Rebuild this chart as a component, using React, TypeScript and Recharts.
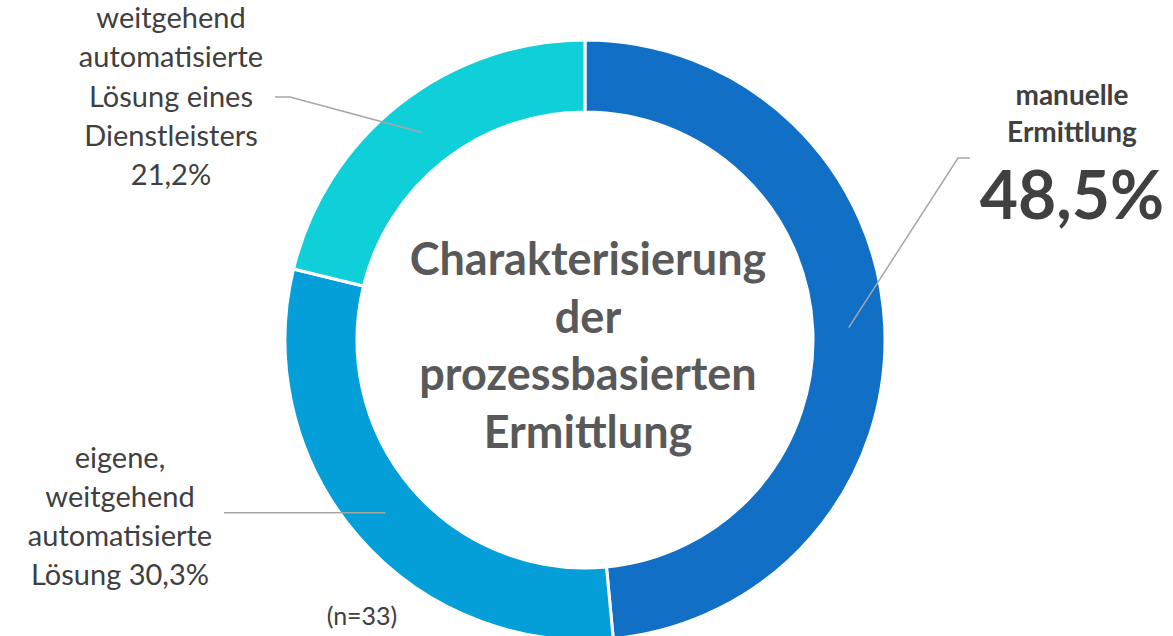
import React from 'react';
import { PieChart, Pie, Cell } from 'recharts';

const categories = ['manuelle Ermittlung', 'eigene, weitgehend automatisierte Lösung', 'weitgehend automatisierte Lösung eines Dienstleisters'];
const shares = [48.5, 30.3, 21.2];
const colors = ['#1170C6', '#049FD9', '#0FCFD9'];
const labelTexts: string[][] = [
  ['manuelle', 'Ermittlung'],
  ['eigene,', 'weitgehend', 'automatisierte', 'Lösung 30,3%'],
  ['weitgehend', 'automatisierte', 'Lösung eines', 'Dienstleisters', '21,2%'],
];
const bigValueText = '48,5%';
const titleLines = ['Charakterisierung', 'der', 'prozessbasierten', 'Ermittlung'];
const noteText = '(n=33)';

const data = categories.map((name, i) => ({ name, value: shares[i] }));

const FONT = 'Lato, "Open Sans", sans-serif';
const TEXT = '#404040';
const LINE = '#A6A6A6';

// label layout (leader line bends and text blocks)
const layout = [
  { bend: [958, 158], end: [970, 158], x: 1072, y0: 105, dy: 37, size: 28, bold: true },
  { bend: null, end: [224, null], x: 120, y0: 468, dy: 39, size: 29, bold: false },
  { bend: [290, 97], end: [275, 97], x: 171, y0: 28, dy: 39.3, size: 29, bold: false },
];

const RAD = Math.PI / 180;

const renderLabel = (props: any) => {
  const { cx, cy, midAngle, innerRadius, outerRadius, index } = props;
  const r = (innerRadius + outerRadius) / 2;
  const sx = cx + r * Math.cos(-midAngle * RAD);
  const sy = cy + r * Math.sin(-midAngle * RAD);
  const L = layout[index];
  const pts: number[][] = [[sx, sy]];
  if (L.bend) pts.push(L.bend as number[]);
  pts.push([L.end[0] as number, (L.end[1] ?? sy) as number]);
  const d = pts.map((p, i) => `${i ? 'L' : 'M'}${p[0]},${p[1]}`).join(' ');
  return (
    <g key={`lbl-${index}`}>
      <path d={d} stroke={LINE} strokeWidth={1.5} fill="none" />
      <text x={L.x} textAnchor="middle" fill={TEXT} fontFamily={FONT} fontSize={L.size} fontWeight={L.bold ? 700 : 400}>
        {labelTexts[index].map((t, j) => (
          <tspan key={j} x={L.x} y={L.y0 + j * L.dy}>{t}</tspan>
        ))}
      </text>
      {index === 0 && (
        <text x={L.x} y={219} textAnchor="middle" fill={TEXT} fontFamily={FONT} fontSize={66} fontWeight={700}>
          {bigValueText}
        </text>
      )}
    </g>
  );
};

export default function App() {
  return (
    <div style={{ position: 'absolute', left: 0, top: 0, width: 1173, height: 636, background: '#fff' }}>
      <PieChart width={1173} height={636} margin={{ top: 0, right: 0, bottom: 0, left: 0 }}>
        <Pie
          data={data}
          dataKey="value"
          nameKey="name"
          cx={585}
          cy={340}
          innerRadius={228}
          outerRadius={300}
          startAngle={90}
          endAngle={-270}
          stroke="#ffffff"
          strokeWidth={3}
          label={renderLabel}
          labelLine={false}
          isAnimationActive={false}
        >
          {data.map((d, i) => (
            <Cell key={d.name} fill={colors[i]} />
          ))}
        </Pie>
        <text textAnchor="middle" fill="#595959" fontFamily={FONT} fontSize={45} fontWeight={700}>
          {titleLines.map((t, j) => (
            <tspan key={j} x={588} y={275 + j * 57.7}>{t}</tspan>
          ))}
        </text>
        <text x={362} y={625} textAnchor="middle" fill={TEXT} fontFamily={FONT} fontSize={25}>
          {noteText}
        </text>
      </PieChart>
    </div>
  );
}
